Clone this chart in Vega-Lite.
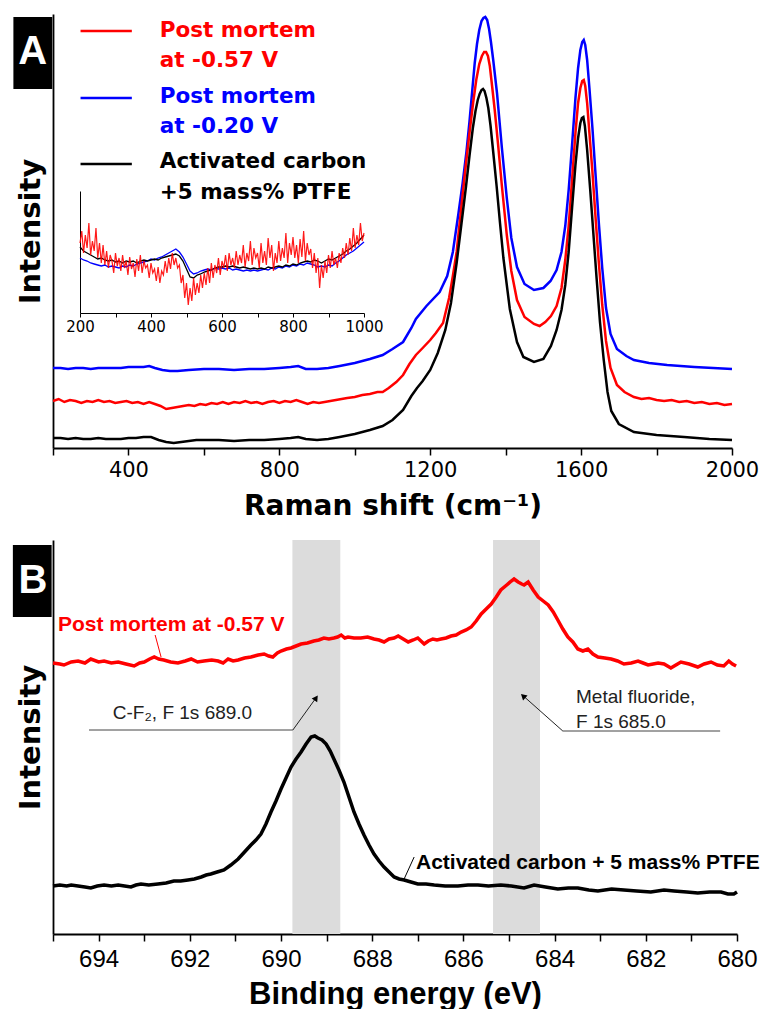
{
  "$schema": "https://vega.github.io/schema/vega-lite/v6.json",
  "padding": {"left": 12, "top": 12, "right": 0, "bottom": 0},
  "bounds": "flush",
  "spacing": 92,
  "config": {
    "view": {"stroke": null},
    "font": "DejaVu Sans",
    "axis": {"grid": false, "labelFlush": false, "labelOverlap": false, "domainColor": "#000000", "tickColor": "#000000", "labelColor": "#000000", "titleColor": "#000000"}
  },
  "datasets": {
    "ramanBlue": [
      {"shift":200,"intensity":80},{"shift":220,"intensity":80},{"shift":240,"intensity":79},{"shift":260,"intensity":80},{"shift":280,"intensity":80},{"shift":300,"intensity":79},{"shift":320,"intensity":80},{"shift":340,"intensity":80},{"shift":360,"intensity":80},{"shift":380,"intensity":80},{"shift":400,"intensity":81},{"shift":420,"intensity":81},{"shift":440,"intensity":81},{"shift":455,"intensity":82},{"shift":470,"intensity":80},{"shift":490,"intensity":78},{"shift":510,"intensity":77},{"shift":530,"intensity":77},{"shift":560,"intensity":78},{"shift":600,"intensity":79},{"shift":640,"intensity":79},{"shift":680,"intensity":78},{"shift":720,"intensity":79},{"shift":760,"intensity":79},{"shift":800,"intensity":80},{"shift":830,"intensity":81},{"shift":850,"intensity":82},{"shift":870,"intensity":79},{"shift":900,"intensity":79},{"shift":930,"intensity":80},{"shift":960,"intensity":82},{"shift":1000,"intensity":85},{"shift":1040,"intensity":89},{"shift":1074,"intensity":93},{"shift":1100,"intensity":99},{"shift":1128,"intensity":106},{"shift":1150,"intensity":120},{"shift":1162,"intensity":129},{"shift":1190,"intensity":142},{"shift":1225,"intensity":156},{"shift":1245,"intensity":172},{"shift":1260,"intensity":196},{"shift":1275,"intensity":235},{"shift":1286,"intensity":265},{"shift":1296,"intensity":296},{"shift":1304,"intensity":326},{"shift":1312,"intensity":360},{"shift":1318,"intensity":385},{"shift":1324,"intensity":404},{"shift":1330,"intensity":418},{"shift":1336,"intensity":427},{"shift":1341,"intensity":430},{"shift":1346,"intensity":431},{"shift":1351,"intensity":428},{"shift":1356,"intensity":419},{"shift":1361,"intensity":406},{"shift":1367,"intensity":388},{"shift":1377,"intensity":355},{"shift":1390,"intensity":300},{"shift":1403,"intensity":250},{"shift":1415,"intensity":210},{"shift":1430,"intensity":181},{"shift":1450,"intensity":164},{"shift":1475,"intensity":158},{"shift":1500,"intensity":160},{"shift":1519,"intensity":167},{"shift":1535,"intensity":178},{"shift":1548,"intensity":196},{"shift":1558,"intensity":222},{"shift":1567,"intensity":258},{"shift":1576,"intensity":303},{"shift":1585,"intensity":350},{"shift":1592,"intensity":380},{"shift":1598,"intensity":398},{"shift":1603,"intensity":406},{"shift":1607,"intensity":408},{"shift":1611,"intensity":403},{"shift":1616,"intensity":388},{"shift":1622,"intensity":360},{"shift":1630,"intensity":320},{"shift":1638,"intensity":275},{"shift":1647,"intensity":225},{"shift":1656,"intensity":180},{"shift":1666,"intensity":140},{"shift":1678,"intensity":114},{"shift":1695,"intensity":99},{"shift":1720,"intensity":92},{"shift":1740,"intensity":88},{"shift":1780,"intensity":85},{"shift":1828,"intensity":83},{"shift":1900,"intensity":81},{"shift":1950,"intensity":80},{"shift":2000,"intensity":79}
    ],
    "ramanRed": [
      {"shift":200,"intensity":47},{"shift":215,"intensity":49},{"shift":230,"intensity":46},{"shift":245,"intensity":48},{"shift":260,"intensity":47},{"shift":275,"intensity":45},{"shift":290,"intensity":47},{"shift":305,"intensity":46},{"shift":320,"intensity":48},{"shift":335,"intensity":46},{"shift":350,"intensity":47},{"shift":365,"intensity":45},{"shift":380,"intensity":46},{"shift":395,"intensity":47},{"shift":410,"intensity":45},{"shift":425,"intensity":46},{"shift":440,"intensity":44},{"shift":455,"intensity":46},{"shift":470,"intensity":44},{"shift":485,"intensity":42},{"shift":500,"intensity":39},{"shift":515,"intensity":40},{"shift":530,"intensity":41},{"shift":545,"intensity":42},{"shift":560,"intensity":43},{"shift":575,"intensity":42},{"shift":590,"intensity":44},{"shift":605,"intensity":43},{"shift":620,"intensity":45},{"shift":635,"intensity":44},{"shift":650,"intensity":46},{"shift":665,"intensity":44},{"shift":680,"intensity":46},{"shift":695,"intensity":45},{"shift":710,"intensity":47},{"shift":725,"intensity":45},{"shift":740,"intensity":46},{"shift":755,"intensity":44},{"shift":770,"intensity":46},{"shift":785,"intensity":47},{"shift":800,"intensity":45},{"shift":815,"intensity":47},{"shift":830,"intensity":46},{"shift":845,"intensity":48},{"shift":860,"intensity":46},{"shift":875,"intensity":44},{"shift":890,"intensity":46},{"shift":905,"intensity":45},{"shift":920,"intensity":46},{"shift":935,"intensity":47},{"shift":950,"intensity":48},{"shift":965,"intensity":49},{"shift":980,"intensity":50},{"shift":1000,"intensity":51},{"shift":1020,"intensity":53},{"shift":1040,"intensity":54},{"shift":1060,"intensity":56},{"shift":1074,"intensity":56},{"shift":1090,"intensity":60},{"shift":1110,"intensity":66},{"shift":1128,"intensity":73},{"shift":1145,"intensity":84},{"shift":1162,"intensity":93},{"shift":1180,"intensity":100},{"shift":1200,"intensity":108},{"shift":1215,"intensity":115},{"shift":1234,"intensity":125},{"shift":1250,"intensity":150},{"shift":1260,"intensity":172},{"shift":1270,"intensity":196},{"shift":1285,"intensity":250},{"shift":1295,"intensity":285},{"shift":1305,"intensity":318},{"shift":1314,"intensity":346},{"shift":1322,"intensity":368},{"shift":1330,"intensity":384},{"shift":1337,"intensity":392},{"shift":1343,"intensity":396},{"shift":1348,"intensity":396},{"shift":1353,"intensity":392},{"shift":1358,"intensity":382},{"shift":1364,"intensity":362},{"shift":1371,"intensity":338},{"shift":1380,"intensity":303},{"shift":1390,"intensity":262},{"shift":1403,"intensity":213},{"shift":1415,"intensity":177},{"shift":1430,"intensity":148},{"shift":1450,"intensity":131},{"shift":1475,"intensity":124},{"shift":1490,"intensity":122},{"shift":1505,"intensity":126},{"shift":1520,"intensity":132},{"shift":1535,"intensity":142},{"shift":1548,"intensity":160},{"shift":1558,"intensity":188},{"shift":1567,"intensity":222},{"shift":1576,"intensity":268},{"shift":1585,"intensity":315},{"shift":1592,"intensity":345},{"shift":1598,"intensity":360},{"shift":1603,"intensity":367},{"shift":1607,"intensity":368},{"shift":1611,"intensity":362},{"shift":1616,"intensity":345},{"shift":1622,"intensity":315},{"shift":1630,"intensity":276},{"shift":1638,"intensity":232},{"shift":1647,"intensity":185},{"shift":1656,"intensity":143},{"shift":1666,"intensity":107},{"shift":1678,"intensity":80},{"shift":1695,"intensity":63},{"shift":1715,"intensity":56},{"shift":1740,"intensity":51},{"shift":1760,"intensity":49},{"shift":1780,"intensity":50},{"shift":1800,"intensity":48},{"shift":1820,"intensity":47},{"shift":1840,"intensity":48},{"shift":1860,"intensity":46},{"shift":1880,"intensity":47},{"shift":1900,"intensity":45},{"shift":1920,"intensity":46},{"shift":1940,"intensity":44},{"shift":1960,"intensity":45},{"shift":1980,"intensity":43},{"shift":2000,"intensity":44}
    ],
    "ramanBlack": [
      {"shift":200,"intensity":10},{"shift":220,"intensity":10},{"shift":240,"intensity":9},{"shift":260,"intensity":10},{"shift":280,"intensity":9},{"shift":300,"intensity":9},{"shift":320,"intensity":10},{"shift":340,"intensity":9},{"shift":360,"intensity":9},{"shift":380,"intensity":9},{"shift":400,"intensity":10},{"shift":420,"intensity":10},{"shift":440,"intensity":11},{"shift":460,"intensity":11},{"shift":480,"intensity":8},{"shift":500,"intensity":6},{"shift":520,"intensity":5},{"shift":540,"intensity":6},{"shift":560,"intensity":7},{"shift":580,"intensity":8},{"shift":600,"intensity":8},{"shift":640,"intensity":8},{"shift":680,"intensity":7},{"shift":720,"intensity":8},{"shift":760,"intensity":8},{"shift":800,"intensity":9},{"shift":830,"intensity":10},{"shift":850,"intensity":11},{"shift":870,"intensity":9},{"shift":900,"intensity":8},{"shift":930,"intensity":9},{"shift":960,"intensity":11},{"shift":1000,"intensity":14},{"shift":1040,"intensity":18},{"shift":1074,"intensity":22},{"shift":1100,"intensity":28},{"shift":1128,"intensity":38},{"shift":1150,"intensity":52},{"shift":1165,"intensity":60},{"shift":1180,"intensity":67},{"shift":1200,"intensity":78},{"shift":1220,"intensity":95},{"shift":1240,"intensity":118},{"shift":1255,"intensity":145},{"shift":1270,"intensity":185},{"shift":1283,"intensity":225},{"shift":1295,"intensity":262},{"shift":1304,"intensity":292},{"shift":1313,"intensity":320},{"shift":1320,"intensity":337},{"shift":1326,"intensity":348},{"shift":1331,"intensity":354},{"shift":1336,"intensity":358},{"shift":1340,"intensity":359},{"shift":1344,"intensity":357},{"shift":1349,"intensity":350},{"shift":1354,"intensity":340},{"shift":1360,"intensity":322},{"shift":1367,"intensity":296},{"shift":1376,"intensity":262},{"shift":1385,"intensity":225},{"shift":1394,"intensity":190},{"shift":1411,"intensity":139},{"shift":1430,"intensity":106},{"shift":1447,"intensity":91},{"shift":1475,"intensity":86},{"shift":1500,"intensity":89},{"shift":1520,"intensity":102},{"shift":1535,"intensity":118},{"shift":1548,"intensity":138},{"shift":1558,"intensity":163},{"shift":1567,"intensity":196},{"shift":1576,"intensity":240},{"shift":1585,"intensity":283},{"shift":1592,"intensity":310},{"shift":1598,"intensity":325},{"shift":1602,"intensity":330},{"shift":1606,"intensity":331},{"shift":1610,"intensity":322},{"shift":1616,"intensity":298},{"shift":1624,"intensity":259},{"shift":1632,"intensity":217},{"shift":1641,"intensity":170},{"shift":1650,"intensity":126},{"shift":1660,"intensity":88},{"shift":1670,"intensity":56},{"shift":1680,"intensity":37},{"shift":1700,"intensity":24},{"shift":1740,"intensity":16},{"shift":1800,"intensity":13},{"shift":1873,"intensity":11},{"shift":1940,"intensity":9},{"shift":2000,"intensity":8}
    ],
    "insetBlue": [
      {"shift":200,"intensity":55},{"shift":210,"intensity":53},{"shift":220,"intensity":52},{"shift":230,"intensity":50},{"shift":240,"intensity":49},{"shift":250,"intensity":48},{"shift":260,"intensity":47},{"shift":270,"intensity":48},{"shift":280,"intensity":46},{"shift":290,"intensity":47},{"shift":300,"intensity":46},{"shift":310,"intensity":45},{"shift":320,"intensity":47},{"shift":330,"intensity":46},{"shift":340,"intensity":48},{"shift":350,"intensity":47},{"shift":360,"intensity":49},{"shift":370,"intensity":50},{"shift":380,"intensity":51},{"shift":390,"intensity":52},{"shift":400,"intensity":54},{"shift":410,"intensity":53},{"shift":420,"intensity":55},{"shift":430,"intensity":56},{"shift":440,"intensity":58},{"shift":450,"intensity":60},{"shift":460,"intensity":62},{"shift":470,"intensity":64},{"shift":480,"intensity":61},{"shift":490,"intensity":56},{"shift":500,"intensity":49},{"shift":510,"intensity":42},{"shift":520,"intensity":39},{"shift":530,"intensity":40},{"shift":540,"intensity":42},{"shift":550,"intensity":43},{"shift":560,"intensity":44},{"shift":570,"intensity":43},{"shift":580,"intensity":45},{"shift":590,"intensity":44},{"shift":600,"intensity":45},{"shift":610,"intensity":44},{"shift":620,"intensity":45},{"shift":630,"intensity":43},{"shift":640,"intensity":44},{"shift":650,"intensity":43},{"shift":660,"intensity":42},{"shift":670,"intensity":43},{"shift":680,"intensity":42},{"shift":690,"intensity":43},{"shift":700,"intensity":42},{"shift":710,"intensity":43},{"shift":720,"intensity":44},{"shift":730,"intensity":43},{"shift":740,"intensity":45},{"shift":750,"intensity":44},{"shift":760,"intensity":46},{"shift":770,"intensity":45},{"shift":780,"intensity":47},{"shift":790,"intensity":46},{"shift":800,"intensity":48},{"shift":810,"intensity":47},{"shift":820,"intensity":49},{"shift":830,"intensity":48},{"shift":840,"intensity":50},{"shift":850,"intensity":49},{"shift":860,"intensity":48},{"shift":870,"intensity":46},{"shift":880,"intensity":47},{"shift":890,"intensity":46},{"shift":900,"intensity":48},{"shift":910,"intensity":47},{"shift":920,"intensity":50},{"shift":930,"intensity":52},{"shift":940,"intensity":55},{"shift":950,"intensity":58},{"shift":960,"intensity":60},{"shift":970,"intensity":62},{"shift":980,"intensity":65},{"shift":990,"intensity":68},{"shift":1000,"intensity":71}
    ],
    "insetBlack": [
      {"shift":200,"intensity":66},{"shift":210,"intensity":62},{"shift":220,"intensity":60},{"shift":230,"intensity":58},{"shift":240,"intensity":56},{"shift":250,"intensity":54},{"shift":260,"intensity":55},{"shift":270,"intensity":53},{"shift":280,"intensity":52},{"shift":290,"intensity":53},{"shift":300,"intensity":51},{"shift":310,"intensity":52},{"shift":320,"intensity":50},{"shift":330,"intensity":52},{"shift":340,"intensity":51},{"shift":350,"intensity":52},{"shift":360,"intensity":50},{"shift":370,"intensity":52},{"shift":380,"intensity":53},{"shift":390,"intensity":52},{"shift":400,"intensity":53},{"shift":410,"intensity":54},{"shift":420,"intensity":53},{"shift":430,"intensity":55},{"shift":440,"intensity":56},{"shift":450,"intensity":57},{"shift":460,"intensity":58},{"shift":470,"intensity":59},{"shift":480,"intensity":57},{"shift":490,"intensity":52},{"shift":500,"intensity":44},{"shift":510,"intensity":36},{"shift":520,"intensity":35},{"shift":530,"intensity":38},{"shift":540,"intensity":39},{"shift":550,"intensity":41},{"shift":560,"intensity":42},{"shift":570,"intensity":43},{"shift":580,"intensity":45},{"shift":590,"intensity":46},{"shift":600,"intensity":46},{"shift":610,"intensity":47},{"shift":620,"intensity":46},{"shift":630,"intensity":47},{"shift":640,"intensity":46},{"shift":650,"intensity":45},{"shift":660,"intensity":46},{"shift":670,"intensity":45},{"shift":680,"intensity":44},{"shift":690,"intensity":45},{"shift":700,"intensity":44},{"shift":710,"intensity":45},{"shift":720,"intensity":44},{"shift":730,"intensity":46},{"shift":740,"intensity":45},{"shift":750,"intensity":46},{"shift":760,"intensity":47},{"shift":770,"intensity":46},{"shift":780,"intensity":48},{"shift":790,"intensity":47},{"shift":800,"intensity":49},{"shift":810,"intensity":48},{"shift":820,"intensity":50},{"shift":830,"intensity":51},{"shift":840,"intensity":52},{"shift":850,"intensity":51},{"shift":860,"intensity":53},{"shift":870,"intensity":52},{"shift":880,"intensity":50},{"shift":890,"intensity":52},{"shift":900,"intensity":54},{"shift":910,"intensity":53},{"shift":920,"intensity":55},{"shift":930,"intensity":57},{"shift":940,"intensity":59},{"shift":950,"intensity":62},{"shift":960,"intensity":64},{"shift":970,"intensity":67},{"shift":980,"intensity":70},{"shift":990,"intensity":74},{"shift":1000,"intensity":78}
    ],
    "insetRed": [
      {"shift":200,"intensity":70},{"shift":205,"intensity":82},{"shift":210,"intensity":60},{"shift":215,"intensity":78},{"shift":220,"intensity":65},{"shift":225,"intensity":90},{"shift":230,"intensity":58},{"shift":235,"intensity":72},{"shift":240,"intensity":62},{"shift":245,"intensity":85},{"shift":250,"intensity":55},{"shift":255,"intensity":70},{"shift":260,"intensity":50},{"shift":265,"intensity":68},{"shift":270,"intensity":48},{"shift":275,"intensity":62},{"shift":280,"intensity":45},{"shift":285,"intensity":58},{"shift":290,"intensity":52},{"shift":295,"intensity":40},{"shift":300,"intensity":60},{"shift":305,"intensity":47},{"shift":310,"intensity":55},{"shift":315,"intensity":42},{"shift":320,"intensity":58},{"shift":325,"intensity":45},{"shift":330,"intensity":52},{"shift":335,"intensity":38},{"shift":340,"intensity":56},{"shift":345,"intensity":44},{"shift":350,"intensity":50},{"shift":355,"intensity":36},{"shift":360,"intensity":54},{"shift":365,"intensity":42},{"shift":370,"intensity":58},{"shift":375,"intensity":40},{"shift":380,"intensity":52},{"shift":385,"intensity":45},{"shift":390,"intensity":48},{"shift":395,"intensity":35},{"shift":400,"intensity":50},{"shift":405,"intensity":40},{"shift":410,"intensity":44},{"shift":415,"intensity":32},{"shift":420,"intensity":46},{"shift":425,"intensity":30},{"shift":430,"intensity":42},{"shift":435,"intensity":38},{"shift":440,"intensity":52},{"shift":445,"intensity":40},{"shift":450,"intensity":55},{"shift":455,"intensity":44},{"shift":460,"intensity":60},{"shift":465,"intensity":48},{"shift":470,"intensity":55},{"shift":475,"intensity":45},{"shift":480,"intensity":48},{"shift":485,"intensity":30},{"shift":490,"intensity":38},{"shift":495,"intensity":15},{"shift":500,"intensity":30},{"shift":505,"intensity":8},{"shift":510,"intensity":25},{"shift":515,"intensity":12},{"shift":520,"intensity":35},{"shift":525,"intensity":18},{"shift":530,"intensity":30},{"shift":535,"intensity":20},{"shift":540,"intensity":38},{"shift":545,"intensity":25},{"shift":550,"intensity":40},{"shift":555,"intensity":28},{"shift":560,"intensity":45},{"shift":565,"intensity":30},{"shift":570,"intensity":50},{"shift":575,"intensity":35},{"shift":580,"intensity":48},{"shift":585,"intensity":40},{"shift":590,"intensity":55},{"shift":595,"intensity":38},{"shift":600,"intensity":52},{"shift":605,"intensity":45},{"shift":610,"intensity":58},{"shift":615,"intensity":42},{"shift":620,"intensity":60},{"shift":625,"intensity":48},{"shift":630,"intensity":55},{"shift":635,"intensity":45},{"shift":640,"intensity":62},{"shift":645,"intensity":48},{"shift":650,"intensity":58},{"shift":655,"intensity":50},{"shift":660,"intensity":68},{"shift":665,"intensity":46},{"shift":670,"intensity":60},{"shift":675,"intensity":52},{"shift":680,"intensity":72},{"shift":685,"intensity":48},{"shift":690,"intensity":65},{"shift":695,"intensity":55},{"shift":700,"intensity":60},{"shift":705,"intensity":45},{"shift":710,"intensity":70},{"shift":715,"intensity":50},{"shift":720,"intensity":62},{"shift":725,"intensity":48},{"shift":730,"intensity":75},{"shift":735,"intensity":55},{"shift":740,"intensity":68},{"shift":745,"intensity":42},{"shift":750,"intensity":60},{"shift":755,"intensity":50},{"shift":760,"intensity":72},{"shift":765,"intensity":52},{"shift":770,"intensity":65},{"shift":775,"intensity":55},{"shift":780,"intensity":80},{"shift":785,"intensity":50},{"shift":790,"intensity":70},{"shift":795,"intensity":58},{"shift":800,"intensity":76},{"shift":805,"intensity":55},{"shift":810,"intensity":68},{"shift":815,"intensity":50},{"shift":820,"intensity":74},{"shift":825,"intensity":56},{"shift":830,"intensity":82},{"shift":835,"intensity":52},{"shift":840,"intensity":70},{"shift":845,"intensity":58},{"shift":850,"intensity":64},{"shift":855,"intensity":45},{"shift":860,"intensity":60},{"shift":865,"intensity":40},{"shift":870,"intensity":55},{"shift":875,"intensity":25},{"shift":880,"intensity":48},{"shift":885,"intensity":35},{"shift":890,"intensity":52},{"shift":895,"intensity":40},{"shift":900,"intensity":58},{"shift":905,"intensity":45},{"shift":910,"intensity":62},{"shift":915,"intensity":48},{"shift":920,"intensity":55},{"shift":925,"intensity":45},{"shift":930,"intensity":60},{"shift":935,"intensity":50},{"shift":940,"intensity":65},{"shift":945,"intensity":55},{"shift":950,"intensity":70},{"shift":955,"intensity":58},{"shift":960,"intensity":75},{"shift":965,"intensity":62},{"shift":970,"intensity":85},{"shift":975,"intensity":65},{"shift":980,"intensity":78},{"shift":985,"intensity":68},{"shift":990,"intensity":90},{"shift":995,"intensity":72},{"shift":1000,"intensity":80}
    ],
    "xpsRed": [
      {"energy":695.0,"intensity":271},{"energy":694.85,"intensity":270},{"energy":694.76,"intensity":269},{"energy":694.6,"intensity":272},{"energy":694.45,"intensity":273},{"energy":694.3,"intensity":271},{"energy":694.17,"intensity":275},{"energy":694.0,"intensity":272},{"energy":693.88,"intensity":273},{"energy":693.72,"intensity":271},{"energy":693.57,"intensity":272},{"energy":693.4,"intensity":270},{"energy":693.22,"intensity":268},{"energy":693.1,"intensity":271},{"energy":693.0,"intensity":272},{"energy":692.88,"intensity":275},{"energy":692.78,"intensity":277},{"energy":692.68,"intensity":275},{"energy":692.57,"intensity":274},{"energy":692.42,"intensity":272},{"energy":692.26,"intensity":271},{"energy":692.1,"intensity":273},{"energy":691.97,"intensity":275},{"energy":691.83,"intensity":272},{"energy":691.69,"intensity":273},{"energy":691.52,"intensity":274},{"energy":691.38,"intensity":273},{"energy":691.27,"intensity":271},{"energy":691.16,"intensity":275},{"energy":691.05,"intensity":273},{"energy":690.94,"intensity":274},{"energy":690.8,"intensity":276},{"energy":690.66,"intensity":277},{"energy":690.5,"intensity":279},{"energy":690.37,"intensity":280},{"energy":690.27,"intensity":278},{"energy":690.18,"intensity":277},{"energy":690.08,"intensity":281},{"energy":690.0,"intensity":283},{"energy":689.88,"intensity":285},{"energy":689.78,"intensity":286},{"energy":689.67,"intensity":288},{"energy":689.56,"intensity":290},{"energy":689.42,"intensity":291},{"energy":689.28,"intensity":293},{"energy":689.17,"intensity":294},{"energy":689.06,"intensity":296},{"energy":688.95,"intensity":295},{"energy":688.84,"intensity":296},{"energy":688.76,"intensity":297},{"energy":688.68,"intensity":299},{"energy":688.6,"intensity":296},{"energy":688.53,"intensity":297},{"energy":688.4,"intensity":296},{"energy":688.25,"intensity":296},{"energy":688.1,"intensity":297},{"energy":687.96,"intensity":295},{"energy":687.85,"intensity":294},{"energy":687.74,"intensity":292},{"energy":687.63,"intensity":295},{"energy":687.52,"intensity":296},{"energy":687.43,"intensity":298},{"energy":687.32,"intensity":295},{"energy":687.21,"intensity":292},{"energy":687.1,"intensity":294},{"energy":687.0,"intensity":296},{"energy":686.86,"intensity":290},{"energy":686.77,"intensity":293},{"energy":686.67,"intensity":295},{"energy":686.58,"intensity":294},{"energy":686.49,"intensity":295},{"energy":686.38,"intensity":296},{"energy":686.27,"intensity":298},{"energy":686.16,"intensity":299},{"energy":686.05,"intensity":302},{"energy":685.94,"intensity":304},{"energy":685.83,"intensity":307},{"energy":685.72,"intensity":313},{"energy":685.61,"intensity":320},{"energy":685.5,"intensity":325},{"energy":685.39,"intensity":330},{"energy":685.28,"intensity":337},{"energy":685.18,"intensity":344},{"energy":685.05,"intensity":349},{"energy":684.95,"intensity":353},{"energy":684.89,"intensity":355},{"energy":684.8,"intensity":352},{"energy":684.72,"intensity":350},{"energy":684.67,"intensity":349},{"energy":684.58,"intensity":352},{"energy":684.47,"intensity":344},{"energy":684.36,"intensity":337},{"energy":684.25,"intensity":333},{"energy":684.14,"intensity":329},{"energy":684.03,"intensity":322},{"energy":683.93,"intensity":314},{"energy":683.82,"intensity":305},{"energy":683.71,"intensity":297},{"energy":683.6,"intensity":292},{"energy":683.49,"intensity":285},{"energy":683.38,"intensity":283},{"energy":683.27,"intensity":285},{"energy":683.16,"intensity":280},{"energy":683.05,"intensity":277},{"energy":682.9,"intensity":276},{"energy":682.76,"intensity":275},{"energy":682.62,"intensity":273},{"energy":682.48,"intensity":270},{"energy":682.32,"intensity":271},{"energy":682.17,"intensity":273},{"energy":682.06,"intensity":271},{"energy":681.95,"intensity":269},{"energy":681.84,"intensity":270},{"energy":681.73,"intensity":271},{"energy":681.6,"intensity":270},{"energy":681.45,"intensity":266},{"energy":681.34,"intensity":269},{"energy":681.23,"intensity":272},{"energy":681.05,"intensity":270},{"energy":680.86,"intensity":267},{"energy":680.72,"intensity":270},{"energy":680.57,"intensity":272},{"energy":680.43,"intensity":269},{"energy":680.29,"intensity":268},{"energy":680.18,"intensity":273},{"energy":680.1,"intensity":270},{"energy":680.02,"intensity":268}
    ],
    "xpsBlack": [
      {"energy":695.0,"intensity":48},{"energy":694.85,"intensity":49},{"energy":694.7,"intensity":48},{"energy":694.6,"intensity":49},{"energy":694.45,"intensity":48},{"energy":694.3,"intensity":47},{"energy":694.17,"intensity":46},{"energy":694.03,"intensity":48},{"energy":693.88,"intensity":49},{"energy":693.72,"intensity":48},{"energy":693.57,"intensity":49},{"energy":693.43,"intensity":48},{"energy":693.29,"intensity":47},{"energy":693.18,"intensity":49},{"energy":693.07,"intensity":50},{"energy":692.9,"intensity":49},{"energy":692.7,"intensity":50},{"energy":692.52,"intensity":51},{"energy":692.35,"intensity":53},{"energy":692.2,"intensity":53},{"energy":692.04,"intensity":54},{"energy":691.9,"intensity":55},{"energy":691.75,"intensity":57},{"energy":691.64,"intensity":59},{"energy":691.54,"intensity":60},{"energy":691.4,"intensity":62},{"energy":691.25,"intensity":64},{"energy":691.1,"intensity":69},{"energy":690.94,"intensity":75},{"energy":690.8,"intensity":82},{"energy":690.66,"intensity":89},{"energy":690.55,"intensity":94},{"energy":690.44,"intensity":100},{"energy":690.33,"intensity":110},{"energy":690.22,"intensity":122},{"energy":690.11,"intensity":133},{"energy":690.0,"intensity":145},{"energy":689.89,"intensity":156},{"energy":689.78,"intensity":167},{"energy":689.67,"intensity":175},{"energy":689.56,"intensity":182},{"energy":689.45,"intensity":190},{"energy":689.34,"intensity":197},{"energy":689.26,"intensity":198},{"energy":689.19,"intensity":196},{"energy":689.1,"intensity":194},{"energy":689.01,"intensity":190},{"energy":688.92,"intensity":183},{"energy":688.84,"intensity":175},{"energy":688.73,"intensity":164},{"energy":688.62,"intensity":152},{"energy":688.51,"intensity":137},{"energy":688.4,"intensity":122},{"energy":688.29,"intensity":110},{"energy":688.18,"intensity":99},{"energy":688.07,"intensity":89},{"energy":687.96,"intensity":80},{"energy":687.85,"intensity":73},{"energy":687.74,"intensity":67},{"energy":687.63,"intensity":62},{"energy":687.52,"intensity":57},{"energy":687.41,"intensity":55},{"energy":687.3,"intensity":54},{"energy":687.15,"intensity":52},{"energy":687.0,"intensity":50},{"energy":686.82,"intensity":50},{"energy":686.64,"intensity":49},{"energy":686.4,"intensity":48},{"energy":686.12,"intensity":48},{"energy":685.9,"intensity":49},{"energy":685.68,"intensity":49},{"energy":685.45,"intensity":48},{"energy":685.18,"intensity":49},{"energy":684.95,"intensity":48},{"energy":684.67,"intensity":46},{"energy":684.45,"intensity":49},{"energy":684.2,"intensity":47},{"energy":683.93,"intensity":45},{"energy":683.7,"intensity":46},{"energy":683.49,"intensity":46},{"energy":683.25,"intensity":44},{"energy":683.05,"intensity":43},{"energy":682.75,"intensity":45},{"energy":682.48,"intensity":44},{"energy":682.2,"intensity":43},{"energy":681.89,"intensity":42},{"energy":681.6,"intensity":44},{"energy":681.38,"intensity":43},{"energy":681.1,"intensity":42},{"energy":680.86,"intensity":41},{"energy":680.6,"intensity":42},{"energy":680.35,"intensity":42},{"energy":680.2,"intensity":40},{"energy":680.07,"intensity":40},{"energy":680.0,"intensity":42}
    ],
    "one": [{}]
  },
  "vconcat": [
    {
      "width": 679,
      "height": 434,
      "layer": [
        {
          "layer": [
            {
              "data": {"name": "ramanBlue"},
              "mark": {"type": "line", "color": "#0000ff", "strokeWidth": 2.5},
              "encoding": {
                "x": {"field": "shift", "type": "quantitative", "scale": {"domain": [200, 2000], "nice": false, "zero": false},
                  "axis": {"title": "Raman shift (cm⁻¹)", "values": [200, 400, 600, 800, 1000, 1200, 1400, 1600, 1800, 2000], "format": "d", "labelExpr": "datum.value % 400 === 0 ? datum.label : ''", "tickSize": 7, "tickWidth": 1.5, "domainWidth": 1.8, "labelFont": "DejaVu Sans", "labelFontSize": 21, "labelPadding": 4, "titleFont": "DejaVu Sans", "titleFontSize": 28, "titleFontWeight": "bold", "titlePadding": 12}},
                "y": {"field": "intensity", "type": "quantitative", "scale": {"domain": [0, 434], "nice": false, "zero": false},
                  "axis": {"title": "Intensity", "labels": false, "ticks": false, "domainWidth": 1.8, "titleFont": "DejaVu Sans", "titleFontSize": 29, "titleFontWeight": "bold", "titlePadding": 8}}
              }
            },
            {
              "data": {"name": "ramanRed"},
              "mark": {"type": "line", "color": "#ff0000", "strokeWidth": 2.5},
              "encoding": {"x": {"field": "shift", "type": "quantitative"}, "y": {"field": "intensity", "type": "quantitative"}}
            },
            {
              "data": {"name": "ramanBlack"},
              "mark": {"type": "line", "color": "#000000", "strokeWidth": 2.5},
              "encoding": {"x": {"field": "shift", "type": "quantitative"}, "y": {"field": "intensity", "type": "quantitative"}}
            },
            {
              "data": {"name": "one"},
              "mark": {"type": "rule", "color": "#ff0000", "strokeWidth": 2.5},
              "encoding": {"x": {"datum": 273, "type": "quantitative"}, "x2": {"datum": 409}, "y": {"datum": 417, "type": "quantitative"}}
            },
            {
              "data": {"name": "one"},
              "mark": {"type": "rule", "color": "#0000ff", "strokeWidth": 2.5},
              "encoding": {"x": {"datum": 273, "type": "quantitative"}, "x2": {"datum": 409}, "y": {"datum": 350, "type": "quantitative"}}
            },
            {
              "data": {"name": "one"},
              "mark": {"type": "rule", "color": "#000000", "strokeWidth": 2.5},
              "encoding": {"x": {"datum": 273, "type": "quantitative"}, "x2": {"datum": 409}, "y": {"datum": 284, "type": "quantitative"}}
            },
            {
              "data": {"name": "one"},
              "mark": {"type": "text", "text": "Post mortem", "color": "#ff0000", "font": "DejaVu Sans", "fontSize": 21.5, "fontWeight": "bold", "align": "left", "baseline": "middle"},
              "encoding": {"x": {"datum": 483, "type": "quantitative"}, "y": {"datum": 417, "type": "quantitative"}}
            },
            {
              "data": {"name": "one"},
              "mark": {"type": "text", "text": "at -0.57 V", "color": "#ff0000", "font": "DejaVu Sans", "fontSize": 21.5, "fontWeight": "bold", "align": "left", "baseline": "middle"},
              "encoding": {"x": {"datum": 483, "type": "quantitative"}, "y": {"datum": 387, "type": "quantitative"}}
            },
            {
              "data": {"name": "one"},
              "mark": {"type": "text", "text": "Post mortem", "color": "#0000ff", "font": "DejaVu Sans", "fontSize": 21.5, "fontWeight": "bold", "align": "left", "baseline": "middle"},
              "encoding": {"x": {"datum": 483, "type": "quantitative"}, "y": {"datum": 351, "type": "quantitative"}}
            },
            {
              "data": {"name": "one"},
              "mark": {"type": "text", "text": "at -0.20 V", "color": "#0000ff", "font": "DejaVu Sans", "fontSize": 21.5, "fontWeight": "bold", "align": "left", "baseline": "middle"},
              "encoding": {"x": {"datum": 483, "type": "quantitative"}, "y": {"datum": 321, "type": "quantitative"}}
            },
            {
              "data": {"name": "one"},
              "mark": {"type": "text", "text": "Activated carbon", "color": "#000000", "font": "DejaVu Sans", "fontSize": 21.5, "fontWeight": "bold", "align": "left", "baseline": "middle"},
              "encoding": {"x": {"datum": 483, "type": "quantitative"}, "y": {"datum": 286, "type": "quantitative"}}
            },
            {
              "data": {"name": "one"},
              "mark": {"type": "text", "text": "+5 mass% PTFE", "color": "#000000", "font": "DejaVu Sans", "fontSize": 21.5, "fontWeight": "bold", "align": "left", "baseline": "middle"},
              "encoding": {"x": {"datum": 483, "type": "quantitative"}, "y": {"datum": 255, "type": "quantitative"}}
            },
            {
              "data": {"name": "one"},
              "mark": {"type": "rect", "color": "#000000"},
              "encoding": {"x": {"datum": 95, "type": "quantitative"}, "x2": {"datum": 198}, "y": {"datum": 431, "type": "quantitative"}, "y2": {"datum": 359}}
            },
            {
              "data": {"name": "one"},
              "mark": {"type": "text", "text": "A", "color": "#ffffff", "font": "Liberation Sans", "fontSize": 40, "fontWeight": "bold", "align": "center", "baseline": "middle"},
              "encoding": {"x": {"datum": 146, "type": "quantitative"}, "y": {"datum": 396, "type": "quantitative"}}
            }
          ]
        },
        {
          "layer": [
            {
              "data": {"name": "insetBlue"},
              "mark": {"type": "line", "color": "#0000ff", "strokeWidth": 1.3},
              "encoding": {
                "x": {"field": "shift", "type": "quantitative", "scale": {"domain": [200, 1000], "range": [27, 311], "nice": false, "zero": false},
                  "axis": {"orient": "bottom", "offset": -135, "title": null, "values": [200, 300, 400, 500, 600, 700, 800, 900, 1000], "format": "d", "labelExpr": "datum.value % 200 === 0 ? datum.label : ''", "tickSize": 4, "domainWidth": 1, "labelFont": "DejaVu Sans", "labelFontSize": 15, "labelPadding": 2}},
                "y": {"field": "intensity", "type": "quantitative", "scale": {"domain": [0, 122], "range": [299, 177], "nice": false, "zero": false},
                  "axis": {"orient": "left", "offset": -27, "title": null, "labels": false, "ticks": false, "domainWidth": 1}}
              }
            },
            {
              "data": {"name": "insetBlack"},
              "mark": {"type": "line", "color": "#000000", "strokeWidth": 1.3},
              "encoding": {"x": {"field": "shift", "type": "quantitative"}, "y": {"field": "intensity", "type": "quantitative"}}
            },
            {
              "data": {"name": "insetRed"},
              "mark": {"type": "line", "color": "#ff0000", "strokeWidth": 1.2, "opacity": 0.9},
              "encoding": {"x": {"field": "shift", "type": "quantitative"}, "y": {"field": "intensity", "type": "quantitative"}}
            }
          ]
        }
      ],
      "resolve": {"scale": {"x": "independent", "y": "independent"}, "axis": {"x": "independent", "y": "independent"}}
    },
    {
      "width": 684,
      "height": 394,
      "layer": [
        {
          "data": {"name": "one"},
          "mark": {"type": "rect", "color": "#dcdcdc"},
          "encoding": {
            "x": {"datum": 689.75, "type": "quantitative", "scale": {"domain": [695, 680], "nice": false, "zero": false},
              "axis": {"title": "Binding energy (eV)", "values": [695, 694, 693, 692, 691, 690, 689, 688, 687, 686, 685, 684, 683, 682, 681, 680], "format": "d", "labelExpr": "datum.value % 2 === 0 ? datum.label : ''", "tickSize": 7, "tickWidth": 1.5, "domainWidth": 1.8, "labelFont": "Liberation Sans", "labelFontSize": 24, "labelPadding": 6, "titleFont": "Liberation Sans", "titleFontSize": 31, "titleFontWeight": "bold", "titlePadding": 8}},
            "x2": {"datum": 688.7},
            "y": {"datum": 0, "type": "quantitative", "scale": {"domain": [0, 394], "nice": false, "zero": false},
              "axis": {"title": "Intensity", "labels": false, "ticks": false, "domainWidth": 1.8, "titleFont": "DejaVu Sans", "titleFontSize": 29, "titleFontWeight": "bold", "titlePadding": 8}},
            "y2": {"datum": 394}
          }
        },
        {
          "data": {"name": "one"},
          "mark": {"type": "rect", "color": "#dcdcdc"},
          "encoding": {"x": {"datum": 685.35, "type": "quantitative"}, "x2": {"datum": 684.32}, "y": {"datum": 0, "type": "quantitative"}, "y2": {"datum": 394}}
        },
        {
          "data": {"name": "xpsRed"},
          "mark": {"type": "line", "color": "#ff0000", "strokeWidth": 3.5},
          "encoding": {"x": {"field": "energy", "type": "quantitative"}, "y": {"field": "intensity", "type": "quantitative"}}
        },
        {
          "data": {"name": "xpsBlack"},
          "mark": {"type": "line", "color": "#000000", "strokeWidth": 3.5},
          "encoding": {"x": {"field": "energy", "type": "quantitative"}, "y": {"field": "intensity", "type": "quantitative"}}
        },
        {
          "data": {"name": "one"},
          "mark": {"type": "text", "text": "Post mortem at -0.57 V", "color": "#ff0000", "font": "Liberation Sans", "fontSize": 21, "fontWeight": "bold", "align": "left", "baseline": "middle"},
          "encoding": {"x": {"datum": 694.89, "type": "quantitative"}, "y": {"datum": 309, "type": "quantitative"}}
        },
        {
          "data": {"name": "one"},
          "mark": {"type": "rule", "color": "#ff0000", "strokeWidth": 1},
          "encoding": {"x": {"datum": 692.76, "type": "quantitative"}, "x2": {"datum": 692.63}, "y": {"datum": 299, "type": "quantitative"}, "y2": {"datum": 277}}
        },
        {
          "data": {"name": "one"},
          "mark": {"type": "text", "text": "Activated carbon + 5 mass% PTFE", "color": "#000000", "font": "Liberation Sans", "fontSize": 21, "fontWeight": "bold", "align": "left", "baseline": "middle"},
          "encoding": {"x": {"datum": 687.04, "type": "quantitative"}, "y": {"datum": 71, "type": "quantitative"}}
        },
        {
          "data": {"name": "one"},
          "mark": {"type": "rule", "color": "#000000", "strokeWidth": 1},
          "encoding": {"x": {"datum": 687.08, "type": "quantitative"}, "x2": {"datum": 687.3}, "y": {"datum": 77, "type": "quantitative"}, "y2": {"datum": 55}}
        },
        {
          "data": {"name": "one"},
          "mark": {"type": "text", "text": "C-F₂, F 1s 689.0", "color": "#222222", "font": "Liberation Sans", "fontSize": 19, "align": "center", "baseline": "middle"},
          "encoding": {"x": {"datum": 692.16, "type": "quantitative"}, "y": {"datum": 221, "type": "quantitative"}}
        },
        {
          "data": {"name": "one"},
          "mark": {"type": "rule", "color": "#444444", "strokeWidth": 1},
          "encoding": {"x": {"datum": 694.21, "type": "quantitative"}, "x2": {"datum": 689.74}, "y": {"datum": 204, "type": "quantitative"}, "y2": {"datum": 204}}
        },
        {
          "data": {"name": "one"},
          "mark": {"type": "rule", "color": "#222222", "strokeWidth": 1},
          "encoding": {"x": {"datum": 689.74, "type": "quantitative"}, "x2": {"datum": 689.25}, "y": {"datum": 204, "type": "quantitative"}, "y2": {"datum": 235}}
        },
        {
          "data": {"name": "one"},
          "mark": {"type": "point", "shape": "triangle-up", "filled": true, "color": "#000000", "size": 45, "angle": 35, "opacity": 1},
          "encoding": {"x": {"datum": 689.23, "type": "quantitative"}, "y": {"datum": 236, "type": "quantitative"}}
        },
        {
          "data": {"name": "one"},
          "mark": {"type": "text", "text": "Metal fluoride,", "color": "#222222", "font": "Liberation Sans", "fontSize": 19, "align": "left", "baseline": "middle"},
          "encoding": {"x": {"datum": 683.53, "type": "quantitative"}, "y": {"datum": 237, "type": "quantitative"}}
        },
        {
          "data": {"name": "one"},
          "mark": {"type": "text", "text": "F 1s 685.0", "color": "#222222", "font": "Liberation Sans", "fontSize": 19, "align": "left", "baseline": "middle"},
          "encoding": {"x": {"datum": 683.53, "type": "quantitative"}, "y": {"datum": 212, "type": "quantitative"}}
        },
        {
          "data": {"name": "one"},
          "mark": {"type": "rule", "color": "#444444", "strokeWidth": 1},
          "encoding": {"x": {"datum": 683.82, "type": "quantitative"}, "x2": {"datum": 680.37}, "y": {"datum": 203, "type": "quantitative"}, "y2": {"datum": 203}}
        },
        {
          "data": {"name": "one"},
          "mark": {"type": "rule", "color": "#222222", "strokeWidth": 1},
          "encoding": {"x": {"datum": 683.82, "type": "quantitative"}, "x2": {"datum": 684.66}, "y": {"datum": 203, "type": "quantitative"}, "y2": {"datum": 237}}
        },
        {
          "data": {"name": "one"},
          "mark": {"type": "point", "shape": "triangle-up", "filled": true, "color": "#000000", "size": 45, "angle": -48, "opacity": 1},
          "encoding": {"x": {"datum": 684.69, "type": "quantitative"}, "y": {"datum": 238, "type": "quantitative"}}
        },
        {
          "data": {"name": "one"},
          "mark": {"type": "rect", "color": "#000000"},
          "encoding": {"x": {"datum": 695.88, "type": "quantitative"}, "x2": {"datum": 695.03}, "y": {"datum": 389, "type": "quantitative"}, "y2": {"datum": 317}}
        },
        {
          "data": {"name": "one"},
          "mark": {"type": "text", "text": "B", "color": "#ffffff", "font": "Liberation Sans", "fontSize": 40, "fontWeight": "bold", "align": "center", "baseline": "middle"},
          "encoding": {"x": {"datum": 695.44, "type": "quantitative"}, "y": {"datum": 353, "type": "quantitative"}}
        }
      ]
    }
  ]
}
